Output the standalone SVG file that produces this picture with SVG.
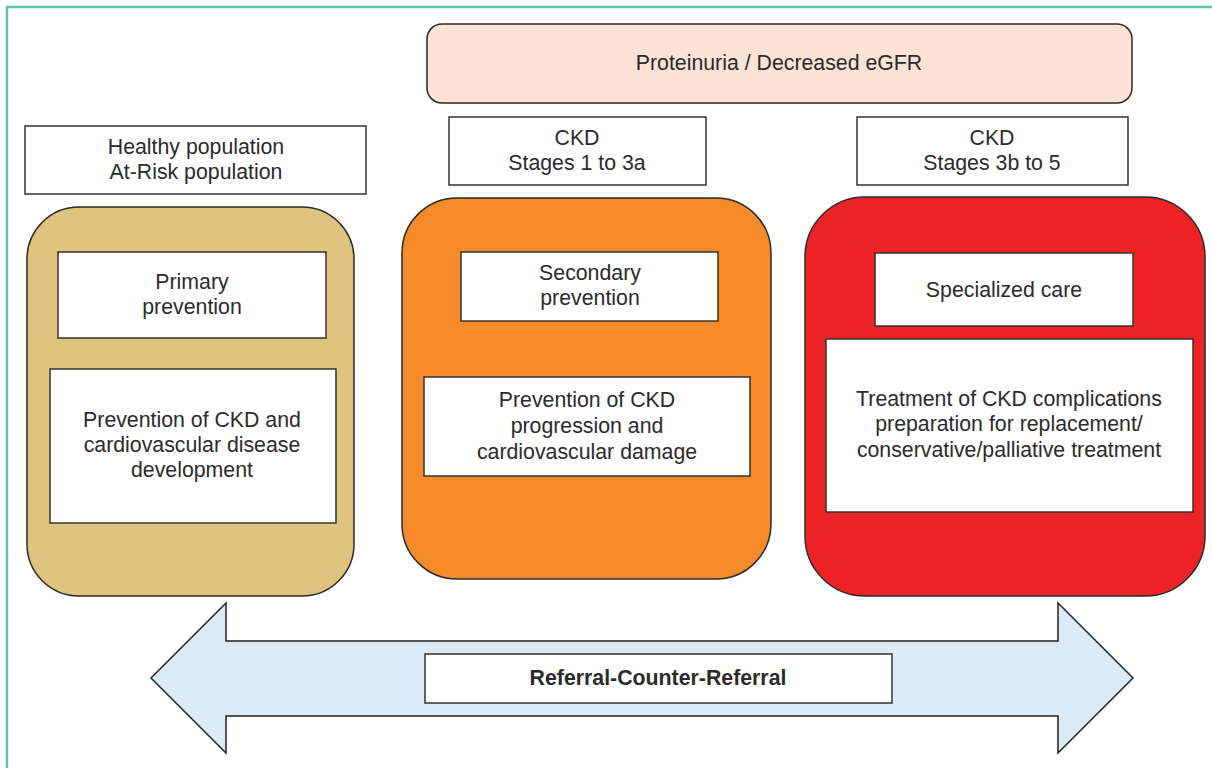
<svg xmlns="http://www.w3.org/2000/svg" width="1212" height="768" viewBox="0 0 1212 768">
<style>
text{font-family:"Liberation Sans",Arial,sans-serif;font-size:21.3px;fill:#2b2b2b;text-anchor:middle}
.lbl{fill:#fff;stroke:#333;stroke-width:1.5}
.stage{stroke:#2a2a2a;stroke-width:1.5}
.b{font-weight:bold}
</style>
<rect width="1212" height="768" fill="#fff"/>
<path d="M7 768 V7 H1212" fill="none" stroke="#5cc3b0" stroke-width="2.5"/>
<g id="proteinuria">
<rect x="427" y="24" width="705" height="79" rx="15" fill="#fce3d6" stroke="#2a2a2a" stroke-width="1.5"/>
<text x="779" y="70">Proteinuria / Decreased eGFR</text>
</g>
<g id="pop-label">
<rect class="lbl" x="25" y="126" width="341" height="68"/>
<text x="196" y="154">Healthy population</text>
<text x="196" y="179">At-Risk population</text>
</g>
<g id="ckd1-label">
<rect class="lbl" x="449" y="117" width="257" height="68"/>
<text x="577" y="145">CKD</text>
<text x="577" y="170">Stages 1 to 3a</text>
</g>
<g id="ckd2-label">
<rect class="lbl" x="857" y="117" width="271" height="68"/>
<text x="992" y="145">CKD</text>
<text x="992" y="170">Stages 3b to 5</text>
</g>
<g id="primary">
<rect class="stage" x="27" y="207" width="327" height="389" rx="52" fill="#dec47e"/>
<rect class="lbl" x="58" y="252" width="268" height="86"/>
<text x="192" y="289">Primary</text>
<text x="192" y="314">prevention</text>
<rect class="lbl" x="50" y="369" width="286" height="154"/>
<text x="192" y="427">Prevention of CKD and</text>
<text x="192" y="452">cardiovascular disease</text>
<text x="192" y="477">development</text>
</g>
<g id="secondary">
<rect class="stage" x="402" y="198" width="369" height="381" rx="55" fill="#f48a2a"/>
<rect class="lbl" x="461" y="252" width="257" height="69"/>
<text x="590" y="280">Secondary</text>
<text x="590" y="305">prevention</text>
<rect class="lbl" x="424" y="377" width="326" height="99"/>
<text x="587" y="407">Prevention of CKD</text>
<text x="587" y="433">progression and</text>
<text x="587" y="459">cardiovascular damage</text>
</g>
<g id="specialized">
<rect class="stage" x="805" y="197" width="400" height="399" rx="60" fill="#ee2326"/>
<rect class="lbl" x="875" y="253" width="258" height="73"/>
<text x="1004" y="297">Specialized care</text>
<rect class="lbl" x="826" y="339" width="367" height="173"/>
<text x="1009" y="406">Treatment of CKD complications</text>
<text x="1009" y="431">preparation for replacement/</text>
<text x="1009" y="457">conservative/palliative treatment</text>
</g>
<g id="connectors">
<path d="M151 678 L226 603 V641 H1058 V603 L1133 678 L1058 753 V716 H226 V753 Z" fill="#dbeaf7" stroke="#222" stroke-width="1.5" stroke-linejoin="miter"/>
</g>
<g id="referral">
<rect class="lbl" x="425" y="654" width="467" height="49"/>
<text class="b" x="658" y="685">Referral-Counter-Referral</text>
</g>
</svg>
